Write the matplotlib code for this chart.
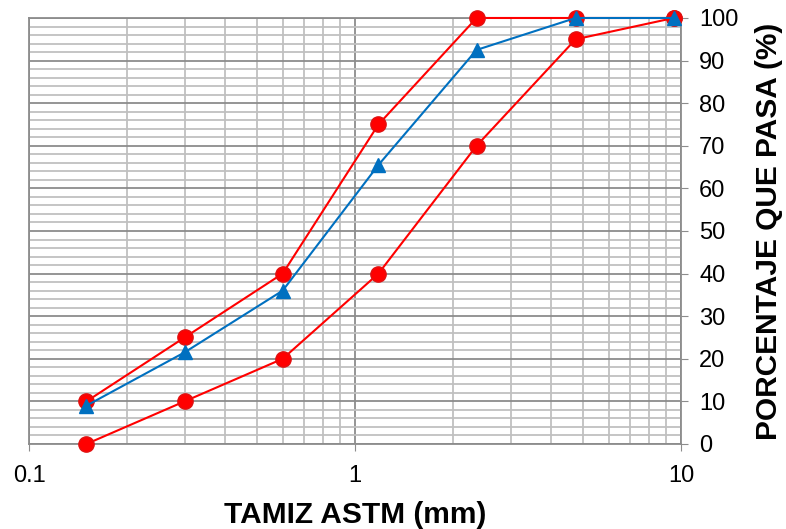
import matplotlib
matplotlib.use("Agg")
import matplotlib.pyplot as plt
from matplotlib.ticker import FixedLocator, MultipleLocator, LogLocator, NullFormatter

plt.rcParams['font.family'] = ['Liberation Sans', 'DejaVu Sans']

sizes = [0.15, 0.3, 0.6, 1.18, 2.36, 4.75, 9.5]
upper_limit = [10, 25, 40, 75, 100, 100, 100]
lower_limit = [0, 10, 20, 40, 70, 95, 100]
sample = [9, 21.5, 36, 65.5, 92.5, 100, 100]
x_ticks = [0.1, 1, 10]
x_tick_labels = ["0.1", "1", "10"]
y_ticks = [0, 10, 20, 30, 40, 50, 60, 70, 80, 90, 100]

fig = plt.figure(figsize=(7.86, 5.29), dpi=100)
ax = fig.add_axes([0.0369, 0.1607, 0.8295, 0.8053])
ax.set_xscale('log')
ax.set_xlim(0.1, 10)
ax.set_ylim(0, 100)

# grid
ax.xaxis.set_major_locator(FixedLocator(x_ticks))
ax.set_xticklabels(x_tick_labels)
ax.xaxis.set_minor_locator(LogLocator(base=10, subs=range(2, 10)))
ax.xaxis.set_minor_formatter(NullFormatter())
ax.yaxis.set_major_locator(FixedLocator(y_ticks))
ax.yaxis.set_minor_locator(MultipleLocator(2))
ax.grid(which='major', axis='y', color='#8c8c8c', lw=1.3)
ax.grid(which='minor', axis='y', color='#c0c0c0', lw=1.3)
ax.grid(which='major', axis='x', color='#8c8c8c', lw=1.3)
ax.grid(which='minor', axis='x', color='#c0c0c0', lw=1.3)
ax.set_axisbelow(True)

ax.yaxis.tick_right()
ax.yaxis.set_label_position('right')
ax.tick_params(axis='y', which='major', direction='out', length=5, color='#8c8c8c',
               labelsize=17, pad=8, left=False, right=True)
ax.tick_params(axis='y', which='minor', length=0)
ax.tick_params(axis='x', which='major', direction='out', length=5, color='#8c8c8c',
               labelsize=17, pad=10)
ax.tick_params(axis='x', which='minor', length=0)
for s in ax.spines.values():
    s.set_color('#8c8c8c')
    s.set_linewidth(1.3)

ax.plot(sizes, upper_limit, color='#ff0000', lw=1.5, marker='o', ms=11,
        mfc='#ff0000', mec='#e01010', clip_on=False, zorder=3)
ax.plot(sizes, lower_limit, color='#ff0000', lw=1.5, marker='o', ms=11,
        mfc='#ff0000', mec='#e01010', clip_on=False, zorder=3)
ax.plot(sizes, sample, color='#0070c0', lw=1.5, marker='^', ms=10,
        mfc='#0070c0', mec='#0070c0', clip_on=False, zorder=4)

ax.set_xlabel('TAMIZ ASTM (mm)', fontsize=21.5, fontweight='bold', labelpad=10)
ax.set_ylabel('PORCENTAJE QUE PASA (%)', fontsize=21.5, fontweight='bold', labelpad=12)

fig.savefig('out.png', dpi=100)
